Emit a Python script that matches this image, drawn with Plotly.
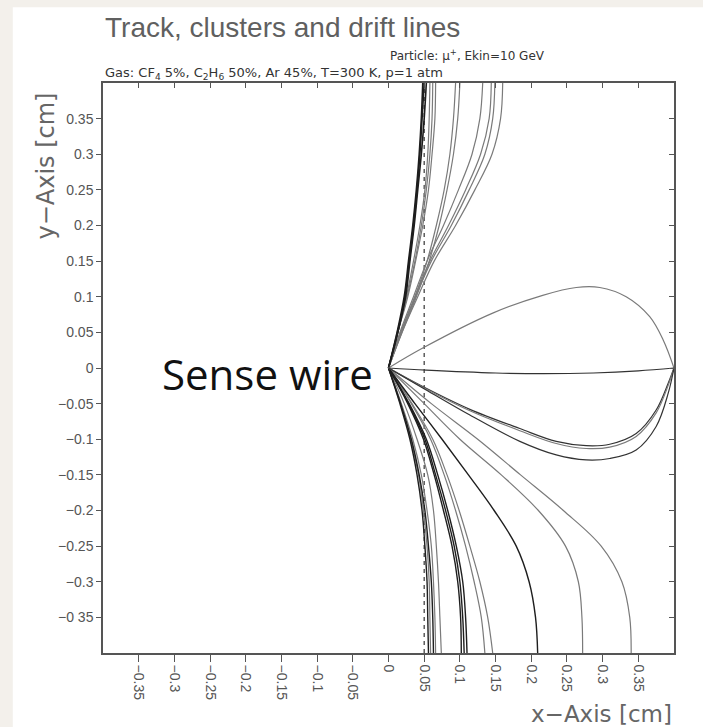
import plotly.graph_objects as go

# ---------------- data ----------------
tick_vals = [-0.35, -0.3, -0.25, -0.2, -0.15, -0.1, -0.05, 0, 0.05, 0.1, 0.15, 0.2, 0.25, 0.3, 0.35]
x_tick_text = ["−0.35", "−0.3", "−0.25", "−0.2", "−0.15", "−0.1", "−0.05", "0",
               "0.05", "0.1", "0.15", "0.2", "0.25", "0.3", "0.35"]
y_tick_text = ["−0 35", "−0.3", "−0.25", "−0.2", "−0.15", "−0.1", "−0.05", "0",
               "0.05", "0.1", "0.15", "0.2", "0.25", "0.3", "0.35"]

# upper drift lines: x positions at common y levels
up_y = [0, 0.05, 0.1, 0.15, 0.2, 0.25, 0.3, 0.35, 0.4]
up_a_x = [0, 0.019, 0.041, 0.064, 0.094, 0.121, 0.145, 0.157, 0.160]
up_b_x = [0, 0.018, 0.038, 0.060, 0.088, 0.113, 0.135, 0.146, 0.149]
up_c_x = [0, 0.017, 0.037, 0.058, 0.084, 0.108, 0.129, 0.141, 0.144]
up_d_x = [0, 0.016, 0.035, 0.054, 0.077, 0.098, 0.117, 0.128, 0.132]
up_e_x = [0, 0.019, 0.039, 0.057, 0.071, 0.082, 0.091, 0.097, 0.100]
up_f_x = [0, 0.018, 0.037, 0.054, 0.067, 0.078, 0.086, 0.091, 0.094]
up_g1_x = [0, 0.012, 0.025, 0.035, 0.044, 0.051, 0.055, 0.057, 0.058]
up_g2_x = [0, 0.013, 0.026, 0.037, 0.046, 0.053, 0.058, 0.061, 0.062]
up_g3_x = [0, 0.013, 0.027, 0.038, 0.048, 0.056, 0.061, 0.065, 0.066]
up_k1_x = [0, 0.012, 0.022, 0.028, 0.034, 0.039, 0.043, 0.046, 0.048]
up_k2_x = [0, 0.013, 0.023, 0.029, 0.035, 0.040, 0.044, 0.047, 0.050]
up_k3_x = [0, 0.013, 0.024, 0.030, 0.036, 0.041, 0.046, 0.050, 0.053]

# lower drift lines: x positions at common y levels
lo_y = [0, -0.05, -0.1, -0.15, -0.2, -0.25, -0.3, -0.35, -0.4]
lo_a_x = [0, 0.060, 0.125, 0.185, 0.245, 0.298, 0.327, 0.338, 0.340]
lo_b_x = [0, 0.050, 0.100, 0.158, 0.210, 0.248, 0.266, 0.271, 0.272]
lo_c_x = [0, 0.037, 0.075, 0.112, 0.148, 0.179, 0.197, 0.206, 0.209]
lo_d_x = [0, 0.033, 0.062, 0.082, 0.099, 0.114, 0.128, 0.139, 0.146]
lo_e_x = [0, 0.032, 0.059, 0.078, 0.094, 0.108, 0.120, 0.130, 0.135]
lo_f_x = [0, 0.027, 0.049, 0.064, 0.077, 0.089, 0.097, 0.101, 0.102]
lo_g_x = [0, 0.028, 0.051, 0.066, 0.080, 0.092, 0.100, 0.104, 0.106]
lo_h_x = [0, 0.029, 0.053, 0.069, 0.083, 0.095, 0.104, 0.108, 0.110]
lo_i_x = [0, 0.022, 0.040, 0.055, 0.063, 0.067, 0.070, 0.072, 0.074]
lo_j_x = [0, 0.017, 0.032, 0.043, 0.051, 0.056, 0.060, 0.062, 0.063]
lo_k_x = [0, 0.016, 0.030, 0.040, 0.047, 0.051, 0.054, 0.055, 0.056]
lo_l_x = [0, 0.017, 0.031, 0.042, 0.049, 0.054, 0.057, 0.058, 0.059]
lo_m_x = [0, 0.018, 0.034, 0.046, 0.054, 0.060, 0.063, 0.065, 0.066]

# lines from the sense wire to the right-hand wire
lobe_up_x = [0, 0.048, 0.146, 0.216, 0.263, 0.296, 0.333, 0.366, 0.385, 0.4]
lobe_up_y = [0, 0.028, 0.077, 0.102, 0.113, 0.113, 0.100, 0.072, 0.039, 0]
mid_x = [0, 0.053, 0.15, 0.216, 0.287, 0.35, 0.4]
mid_y = [0, -0.003, -0.007, -0.008, -0.007, -0.004, 0]
lobe_lo_x = [0, 0.048, 0.114, 0.184, 0.235, 0.277, 0.310, 0.347, 0.375, 0.392, 0.4]
lobe_lo1_y = [0, -0.026, -0.058, -0.085, -0.103, -0.109, -0.107, -0.092, -0.059, -0.021, 0]
lobe_lo2_y = [0, -0.027, -0.060, -0.088, -0.106, -0.113, -0.111, -0.096, -0.063, -0.024, 0]
lobe_lo3_y = [0, -0.028, -0.066, -0.103, -0.122, -0.129, -0.127, -0.115, -0.082, -0.035, 0]

track_x = [0.05, 0.05]
track_y = [-0.4, 0.4]

GRAY = "#7a7a7a"
BLACK = "#1e1e1e"
AX = "#555555"

fig = go.Figure()

def add(x, y, color, width=1.2, dash=None):
    fig.add_trace(go.Scatter(x=x, y=y, mode="lines",
                             line=dict(color=color, width=width, shape="spline",
                                       smoothing=1.0, dash=dash),
                             hoverinfo="skip", showlegend=False))

fig.add_trace(go.Scatter(x=track_x, y=track_y, mode="lines",
                         line=dict(color="#444444", width=1.3, dash="4px,4px"),
                         hoverinfo="skip", showlegend=False))

for xs in [up_a_x, up_b_x, up_c_x, up_d_x, up_e_x, up_f_x, up_g1_x, up_g2_x, up_g3_x]:
    add(xs, up_y, GRAY)
for xs in [up_k1_x, up_k2_x, up_k3_x]:
    add(xs, up_y, BLACK, 1.6)

for xs in [lo_a_x, lo_b_x, lo_d_x, lo_e_x, lo_i_x, lo_l_x, lo_m_x]:
    add(xs, lo_y, GRAY)
for xs in [lo_c_x, lo_f_x, lo_g_x, lo_h_x, lo_j_x, lo_k_x]:
    add(xs, lo_y, BLACK, 1.4)

add(lobe_up_x, lobe_up_y, GRAY)
add(mid_x, mid_y, "#333333")
add(lobe_lo_x, lobe_lo1_y, "#333333")
add(lobe_lo_x, lobe_lo2_y, GRAY)
add(lobe_lo_x, lobe_lo3_y, "#333333")

# helper trace for the inner ticks on top/right
fig.add_trace(go.Scatter(x=[0], y=[0], xaxis="x2", yaxis="y2", mode="markers",
                         marker=dict(opacity=0), hoverinfo="skip", showlegend=False))

axis_common = dict(range=[-0.4, 0.4], tickvals=tick_vals, showgrid=False, zeroline=False,
                   showline=True, linecolor=AX, linewidth=1.5, tickcolor=AX, tickwidth=1.2,
                   ticks="outside", tickfont=dict(family="Liberation Sans, Arial", size=14, color="#555555"))

fig.update_layout(
    width=703, height=727,
    margin=dict(l=103, r=29, t=83, b=74),
    paper_bgcolor="#f3f0eb", plot_bgcolor="white",
    xaxis=dict(axis_common, ticktext=x_tick_text, tickangle=90, ticklen=7, mirror=True),
    yaxis=dict(axis_common, ticktext=y_tick_text, ticklen=5, mirror=True),
    xaxis2=dict(range=[-0.4, 0.4], tickvals=tick_vals, overlaying="x", side="top",
                ticks="inside", ticklen=5, tickcolor=AX, tickwidth=1.2,
                showticklabels=False, showgrid=False, zeroline=False, showline=False),
    yaxis2=dict(range=[-0.4, 0.4], tickvals=tick_vals, overlaying="y", side="right",
                ticks="inside", ticklen=5, tickcolor=AX, tickwidth=1.2,
                showticklabels=False, showgrid=False, zeroline=False, showline=False),
    shapes=[dict(type="rect", xref="paper", yref="paper", x0=-0.158, x1=1.06,
                 y0=-0.14, y1=1.133, fillcolor="white", line=dict(width=0), layer="below")],
)

fig.add_annotation(text="Track, clusters and drift lines", xref="paper", yref="paper",
                   x=0.0, y=1.066, xanchor="left", yanchor="bottom", showarrow=False,
                   font=dict(family="Liberation Sans, Arial", size=28, color="#606060"))
fig.add_annotation(text="Particle: μ<sup>+</sup>, Ekin=10 GeV", xref="paper", yref="paper",
                   x=0.499, y=1.031, xanchor="left", yanchor="bottom", showarrow=False,
                   font=dict(family="DejaVu Sans", size=12, color="#333333"))
fig.add_annotation(text="Gas: CF<sub>4</sub> 5%, C<sub>2</sub>H<sub>6</sub> 50%, Ar 45%, T=300 K, p=1 atm",
                   xref="paper", yref="paper", x=0.0, y=0.998, xanchor="left", yanchor="bottom",
                   showarrow=False, font=dict(family="DejaVu Sans", size=13, color="#333333"))
fig.add_annotation(text="y−Axis [cm]", xref="paper", yref="paper", x=-0.1, y=0.855,
                   xanchor="center", yanchor="middle", textangle=-90, showarrow=False,
                   font=dict(family="DejaVu Sans", size=24, color="#666666"))
fig.add_annotation(text="x−Axis [cm]", xref="paper", yref="paper", x=1.0, y=-0.107,
                   xanchor="right", yanchor="middle", showarrow=False,
                   font=dict(family="DejaVu Sans", size=23, color="#666666"))
fig.add_annotation(text="Sense wire", x=-0.17, y=-0.008, xanchor="center", yanchor="middle",
                   showarrow=False, font=dict(family="Open Sans", size=42, color="#111111"))

fig.write_html("out.html")
